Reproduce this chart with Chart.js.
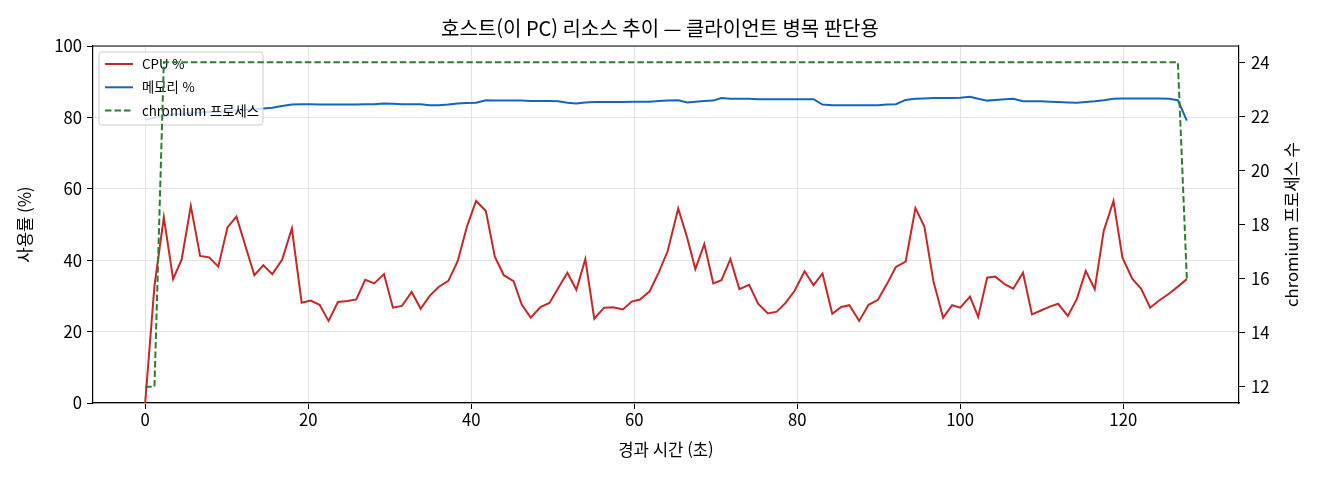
<!DOCTYPE html>
<html lang="ko">
<head>
    <meta charset="UTF-8">
    <title>호스트 리소스 추이</title>
    <script src="https://cdn.jsdelivr.net/npm/chart.js"></script>
    <style>
        html, body {
            margin: 0;
            padding: 0;
            background: #ffffff;
            overflow: hidden;
        }
        #chart {
            display: block;
        }
    </style>
</head>
<body>
<canvas id="chart" width="1320" height="480"></canvas>

<script>
    // 경과 시간 (초)
    const times = [
        0, 1.14, 2.29, 3.43, 4.49, 5.6, 6.74, 7.85, 8.97, 10.1,
        11.2, 12.3, 13.4, 14.5, 15.6, 16.8, 18.0, 19.2, 20.3, 21.4,
        22.5, 23.65, 24.8, 25.9, 27.0, 28.1, 29.3, 30.4, 31.5, 32.7,
        33.8, 34.9, 36.0, 37.2, 38.35, 39.5, 40.6, 41.8, 42.9, 44.0,
        45.2, 46.2, 47.3, 48.5, 49.6, 50.7, 51.8, 52.9, 54.0, 55.1,
        56.3, 57.4, 58.6, 59.7, 60.7, 61.9, 63.0, 64.1, 65.4, 66.5,
        67.5, 68.6, 69.7, 70.7, 71.8, 72.9, 74.1, 75.2, 76.4, 77.5,
        78.6, 79.7, 80.9, 82.0, 83.1, 84.3, 85.4, 86.4, 87.6, 88.75,
        89.9, 91.0, 92.1, 93.3, 94.5, 95.6, 96.7, 97.9, 99.0, 100.0,
        101.2, 102.2, 103.3, 104.3, 105.5, 106.5, 107.7, 108.8, 109.9, 111.0,
        112.0, 113.2, 114.3, 115.4, 116.5, 117.6, 118.8, 119.9, 121.1, 122.2,
        123.3, 124.4, 125.6, 126.7, 127.8
    ];

    // CPU 사용률 (%)
    const cpuPct = [
        0, 32.8, 52.0, 34.7, 40.3, 55.2, 41.2, 40.8, 38.2, 49.2,
        52.2, 44.0, 35.8, 38.6, 36.1, 40.1, 48.9, 28.1, 28.7, 27.5,
        23.0, 28.3, 28.6, 29.0, 34.5, 33.5, 36.1, 26.7, 27.2, 31.1,
        26.4, 30.0, 32.5, 34.2, 39.8, 49.6, 56.6, 53.8, 41.0, 35.8,
        34.1, 27.6, 23.9, 26.9, 28.0, 32.3, 36.5, 31.7, 40.3, 23.6,
        26.7, 26.8, 26.2, 28.4, 29.0, 31.3, 36.5, 42.5, 54.5, 46.3,
        37.5, 44.5, 33.5, 34.4, 40.3, 31.9, 33.1, 27.8, 25.1, 25.6,
        28.1, 31.5, 36.9, 33.0, 36.3, 25.0, 26.9, 27.4, 23.0, 27.5,
        28.9, 33.3, 38.1, 39.6, 54.6, 49.4, 34.2, 23.9, 27.4, 26.7,
        29.8, 24.1, 35.1, 35.4, 33.2, 32.0, 36.5, 24.8, 25.9, 27.0,
        27.8, 24.4, 29.1, 37.0, 31.9, 48.2, 56.6, 40.7, 34.8, 32.0,
        26.7, 28.7, 30.6, 32.6, 34.7
    ];

    // 메모리 사용률 (%)
    const memPct = [
        79.3, 79.9, 80.4, 80.8, 81.0, 81.2, 81.4, 81.5, 81.6, 81.7,
        81.9, 82.1, 82.3, 82.5, 82.7, 83.2, 83.6, 83.7, 83.7, 83.6,
        83.6, 83.6, 83.6, 83.6, 83.7, 83.7, 83.9, 83.8, 83.7, 83.7,
        83.7, 83.4, 83.4, 83.6, 83.9, 84.0, 84.1, 84.8, 84.7, 84.7,
        84.7, 84.7, 84.6, 84.6, 84.6, 84.5, 84.1, 83.9, 84.2, 84.3,
        84.3, 84.3, 84.3, 84.4, 84.4, 84.4, 84.6, 84.7, 84.8, 84.2,
        84.4, 84.6, 84.7, 85.4, 85.2, 85.2, 85.2, 85.1, 85.1, 85.1,
        85.1, 85.1, 85.1, 85.1, 83.6, 83.4, 83.4, 83.4, 83.4, 83.4,
        83.4, 83.6, 83.7, 84.9, 85.2, 85.3, 85.4, 85.4, 85.4, 85.5,
        85.8, 85.2, 84.7, 84.9, 85.1, 85.2, 84.5, 84.5, 84.5, 84.4,
        84.3, 84.2, 84.1, 84.3, 84.5, 84.8, 85.2, 85.3, 85.3, 85.3,
        85.3, 85.3, 85.2, 84.8, 79.1
    ];

    // chromium 프로세스 수
    const procCount = [
        12, 12, 24, 24, 24, 24, 24, 24, 24, 24,
        24, 24, 24, 24, 24, 24, 24, 24, 24, 24,
        24, 24, 24, 24, 24, 24, 24, 24, 24, 24,
        24, 24, 24, 24, 24, 24, 24, 24, 24, 24,
        24, 24, 24, 24, 24, 24, 24, 24, 24, 24,
        24, 24, 24, 24, 24, 24, 24, 24, 24, 24,
        24, 24, 24, 24, 24, 24, 24, 24, 24, 24,
        24, 24, 24, 24, 24, 24, 24, 24, 24, 24,
        24, 24, 24, 24, 24, 24, 24, 24, 24, 24,
        24, 24, 24, 24, 24, 24, 24, 24, 24, 24,
        24, 24, 24, 24, 24, 24, 24, 24, 24, 24,
        24, 24, 24, 24, 16
    ];

    // 눈금
    const xTicks = [0, 20, 40, 60, 80, 100, 120];
    const pctTicks = [0, 20, 40, 60, 80, 100];
    const procTicks = [12, 14, 16, 18, 20, 22, 24];

    const seriesLabels = ['CPU %', '메모리 %', 'chromium 프로세스'];
    const chartTitle = '호스트(이 PC) 리소스 추이 — 클라이언트 병목 판단용';
    const xTitle = '경과 시간 (초)';
    const yTitle = '사용률 (%)';
    const y1Title = 'chromium 프로세스 수';

    const FONT = "'Noto Sans CJK KR', 'DejaVu Sans', sans-serif";
    const RED = '#c62828';
    const BLUE = '#1565c0';
    const GREEN = '#2e7d32';
    const GRID = '#e3e3e3';

    const toPoints = (ys) => times.map((t, i) => ({ x: t, y: ys[i] }));

    // 범례 (ax1 범례: 초록 점선보다 먼저 그림)
    const legendBox = {
        id: 'legendBox',
        beforeDatasetDraw(chart, args) {
            if (args.index !== 2) return;
            const ctx = chart.ctx;
            const a = chart.chartArea;
            const x = a.left + 6, y = a.top + 6, w = 164, h = 73;
            ctx.save();
            ctx.beginPath();
            ctx.roundRect(x, y, w, h, 3);
            ctx.fillStyle = 'rgba(255,255,255,0.8)';
            ctx.fill();
            ctx.strokeStyle = '#cccccc';
            ctx.lineWidth = 1;
            ctx.stroke();
            ctx.font = '13.3px ' + FONT;
            ctx.textBaseline = 'middle';
            chart.data.datasets.forEach((ds, i) => {
                const ry = y + 12 + i * 23.3;
                ctx.beginPath();
                ctx.setLineDash(ds.borderDash || []);
                ctx.strokeStyle = ds.borderColor;
                ctx.lineWidth = ds.borderWidth;
                ctx.moveTo(x + 6, ry);
                ctx.lineTo(x + 34, ry);
                ctx.stroke();
                ctx.setLineDash([]);
                ctx.fillStyle = '#000';
                ctx.fillText(ds.label, x + 43, ry);
            });
            ctx.restore();
        }
    };

    // 윗쪽 테두리와 축 제목
    const frameAndTitles = {
        id: 'frameAndTitles',
        afterDraw(chart) {
            const ctx = chart.ctx;
            const a = chart.chartArea;
            ctx.save();
            ctx.strokeStyle = '#000';
            ctx.lineWidth = 1.2;
            ctx.beginPath();
            ctx.moveTo(a.left, a.top);
            ctx.lineTo(a.right, a.top);
            ctx.stroke();

            ctx.fillStyle = '#000';
            ctx.font = '16.7px ' + FONT;
            ctx.textAlign = 'center';
            ctx.textBaseline = 'middle';
            const midY = (a.top + a.bottom) / 2;
            ctx.fillText(xTitle, (a.left + a.right) / 2, 450);

            ctx.save();
            ctx.translate(25, midY);
            ctx.rotate(-Math.PI / 2);
            ctx.fillText(yTitle, 0, 0);
            ctx.restore();

            ctx.save();
            ctx.translate(1292, midY);
            ctx.rotate(-Math.PI / 2);
            ctx.fillText(y1Title, 0, 0);
            ctx.restore();
            ctx.restore();
        }
    };

    const axisCommon = {
        grid: { color: GRID, tickColor: '#000', tickLength: 6, lineWidth: 1 },
        border: { color: '#000', width: 1.2 },
        ticks: { color: '#000', font: { family: FONT, size: 16.7 } }
    };

    const myChart = new Chart(document.getElementById('chart'), {
        type: 'line',
        data: {
            datasets: [
                {
                    label: seriesLabels[0],
                    data: toPoints(cpuPct),
                    borderColor: RED,
                    borderWidth: 2,
                    yAxisID: 'y',
                    order: 2
                },
                {
                    label: seriesLabels[1],
                    data: toPoints(memPct),
                    borderColor: BLUE,
                    borderWidth: 2,
                    yAxisID: 'y',
                    order: 1
                },
                {
                    label: seriesLabels[2],
                    data: toPoints(procCount),
                    borderColor: GREEN,
                    borderWidth: 2,
                    borderDash: [6.5, 3],
                    yAxisID: 'y1',
                    order: 0
                }
            ]
        },
        options: {
            responsive: false,
            animation: false,
            devicePixelRatio: 1,
            layout: { padding: 0 },
            elements: {
                point: { radius: 0 },
                line: { tension: 0, fill: false }
            },
            plugins: {
                legend: { display: false },
                tooltip: { enabled: false },
                title: {
                    display: true,
                    text: chartTitle,
                    color: '#000',
                    font: { family: FONT, size: 20, weight: 'normal' },
                    padding: { top: 16, bottom: 6 }
                }
            },
            scales: {
                x: {
                    type: 'linear',
                    min: -6.4,
                    max: 134.2,
                    grid: axisCommon.grid,
                    border: axisCommon.border,
                    ticks: { ...axisCommon.ticks, padding: 1, maxRotation: 0 },
                    afterBuildTicks: (s) => { s.ticks = xTicks.map(v => ({ value: v })); },
                    afterFit: (s) => { s.height = 77; }
                },
                y: {
                    type: 'linear',
                    position: 'left',
                    min: 0,
                    max: 100,
                    grid: axisCommon.grid,
                    border: axisCommon.border,
                    ticks: { ...axisCommon.ticks, padding: 5 },
                    afterBuildTicks: (s) => { s.ticks = pctTicks.map(v => ({ value: v })); },
                    afterFit: (s) => { s.width = 93; }
                },
                y1: {
                    type: 'linear',
                    position: 'right',
                    min: 11.4,
                    max: 24.6,
                    grid: { ...axisCommon.grid, drawOnChartArea: false },
                    border: axisCommon.border,
                    ticks: { ...axisCommon.ticks, padding: 6 },
                    afterBuildTicks: (s) => { s.ticks = procTicks.map(v => ({ value: v })); },
                    afterFit: (s) => { s.width = 81; }
                }
            }
        },
        plugins: [legendBox, frameAndTitles]
    });
</script>

</body>
</html>
